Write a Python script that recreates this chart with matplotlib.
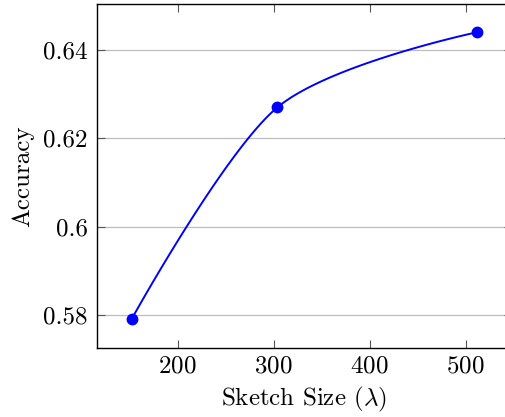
import numpy as np
import matplotlib
matplotlib.use("Agg")
import matplotlib.pyplot as plt

plt.rcParams['font.family'] = 'serif'
plt.rcParams['font.serif'] = ['cmr10']
plt.rcParams['mathtext.fontset'] = 'cm'
plt.rcParams['axes.formatter.use_mathtext'] = True

sketch_size = [152, 304, 512]
accuracy = [0.579, 0.627, 0.644]
x_ticks = [200, 300, 400, 500]
y_ticks = [0.58, 0.60, 0.62, 0.64]
y_tick_labels = ['0.58', '0.6', '0.62', '0.64']


def smooth_curve(xs, ys, tension=0.55, n=60):
    # tikz-style "smooth" plot: cubic bezier through the points
    k = 0.2775 * tension
    p = np.column_stack([xs, ys]).astype(float)
    out = []
    for i in range(len(p) - 1):
        a, b = p[i], p[i + 1]
        c1 = a if i == 0 else a + k * (p[i + 1] - p[i - 1])
        c2 = b if i == len(p) - 2 else b - k * (p[i + 2] - p[i])
        t = np.linspace(0, 1, n)[:, None]
        seg = ((1 - t) ** 3 * a + 3 * (1 - t) ** 2 * t * c1
               + 3 * (1 - t) * t ** 2 * c2 + t ** 3 * b)
        out.append(seg if i == 0 else seg[1:])
    out = np.vstack(out)
    return out[:, 0], out[:, 1]


fig = plt.figure(figsize=(5.05, 4.17), dpi=100)
ax = fig.add_axes([0.192, 0.1655, 0.8212, 0.825])

cx, cy = smooth_curve(sketch_size, accuracy)
ax.plot(cx, cy, color='blue', lw=1.4, zorder=3)
ax.plot(sketch_size, accuracy, 'o', color='blue', ms=7.5, zorder=4)

ax.set_xlim(116, 548)
ax.set_ylim(0.5725, 0.6504)
ax.set_xticks(x_ticks)
ax.set_yticks(y_ticks)
ax.set_yticklabels(y_tick_labels)
ax.yaxis.grid(True, color='#bdbdbd', lw=0.9)
ax.set_axisbelow(True)

ax.tick_params(direction='in', top=True, right=True, length=6,
               width=0.8, color='#555555', labelsize=18)
ax.tick_params(axis='y', pad=6.5)
ax.tick_params(axis='x', pad=5)
for s in ax.spines.values():
    s.set_linewidth(1.0)

ax.set_xlabel(r'Sketch Size ($\lambda$)', fontsize=18, labelpad=6)
ax.set_ylabel('Accuracy', fontsize=18, labelpad=7)

fig.savefig('out.png', dpi=100)
